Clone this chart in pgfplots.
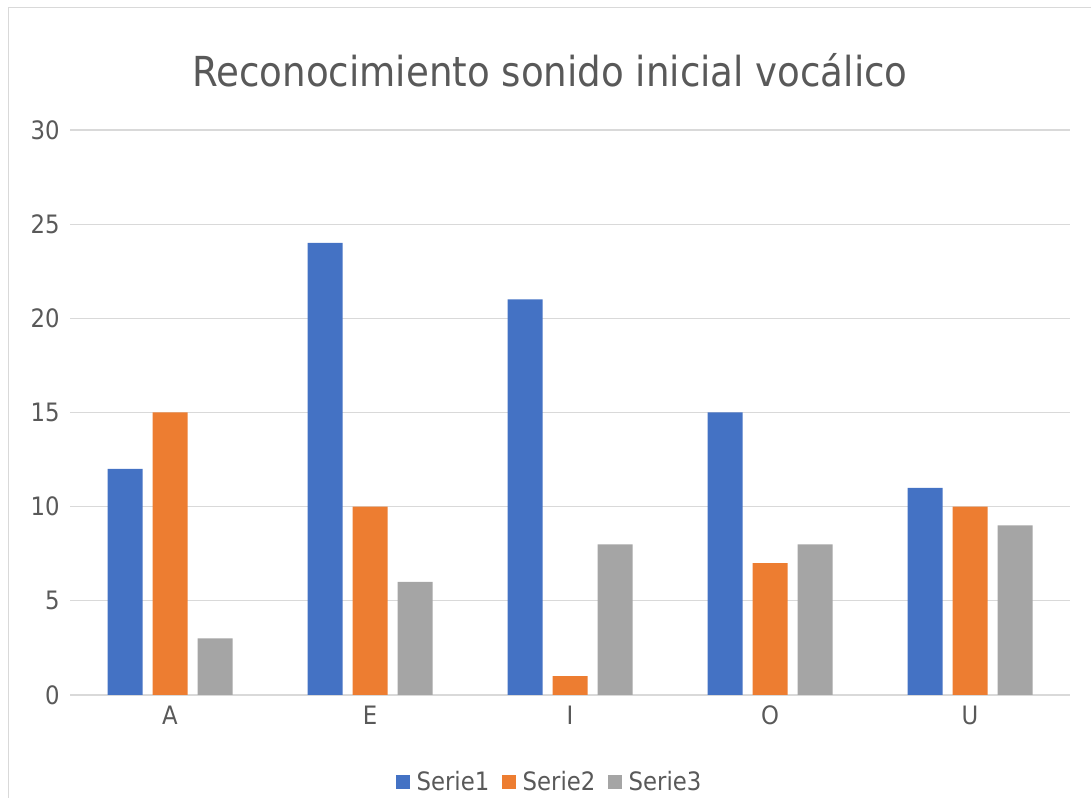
\documentclass[border=0pt]{standalone}
\usepackage{pgfplots}
\pgfplotsset{compat=1.18}
\usepackage{fontspec}
\setmainfont{DejaVu Sans Condensed}
\definecolor{s1}{HTML}{4472C4}
\definecolor{s2}{HTML}{ED7D31}
\definecolor{s3}{HTML}{A5A5A5}
\definecolor{txt}{HTML}{595959}
\definecolor{grd}{HTML}{D9D9D9}
\begin{document}
\begin{tikzpicture}
\useasboundingbox (0pt,0pt) rectangle (818.25pt,598.5pt);
\draw[grd,line width=0.75pt] (6pt,0pt) -- (6pt,592.5pt) -- (818.25pt,592.5pt);
\node[txt,font=\fontsize{31}{36}\selectfont] at (412.5pt,546pt) {Reconocimiento sonido inicial vocálico};
\begin{axis}[
  at={(52.5pt,77.25pt)}, anchor=south west,
  scale only axis, width=750pt, height=423.75pt,
  ybar=7.5pt, bar width=26.25pt,
  xmin=-0.5, xmax=4.5, ymin=0, ymax=30,
  xtick={0,1,2,3,4}, xticklabels={A,E,I,O,U},
  ytick={0,5,...,30},
  ymajorgrids, grid style={grd,line width=0.9pt},
  axis x line*=bottom, axis y line*=left,
  y axis line style={draw=none},
  x axis line style={grd,line width=0.9pt},
  major tick length=0pt,
  tick label style={txt,font=\fontsize{19}{22}\selectfont},
  /pgf/number format/assume math mode=true,
  xticklabel style={anchor=north,inner sep=0pt,yshift=-8pt},
  yticklabel style={anchor=east,inner sep=0pt,xshift=-7.5pt},
  legend style={at={(0.48,-0.154)},anchor=center,draw=none,fill=none,
    legend columns=3,font=\fontsize{19}{22}\selectfont,text=txt,
    /tikz/every odd column/.append style={column sep=3pt},
    /tikz/every even column/.append style={column sep=7.5pt}},
  legend image code/.code={\fill[#1] (0pt,-5pt) rectangle (10.5pt,5.5pt);},
]
\addplot[fill=s1,draw=none] coordinates {(0,12) (1,24) (2,21) (3,15) (4,11)};
\addplot[fill=s2,draw=none] coordinates {(0,15) (1,10) (2,1) (3,7) (4,10)};
\addplot[fill=s3,draw=none] coordinates {(0,3) (1,6) (2,8) (3,8) (4,9)};
\legend{Serie1,Serie2,Serie3}
\end{axis}
\end{tikzpicture}
\end{document}
